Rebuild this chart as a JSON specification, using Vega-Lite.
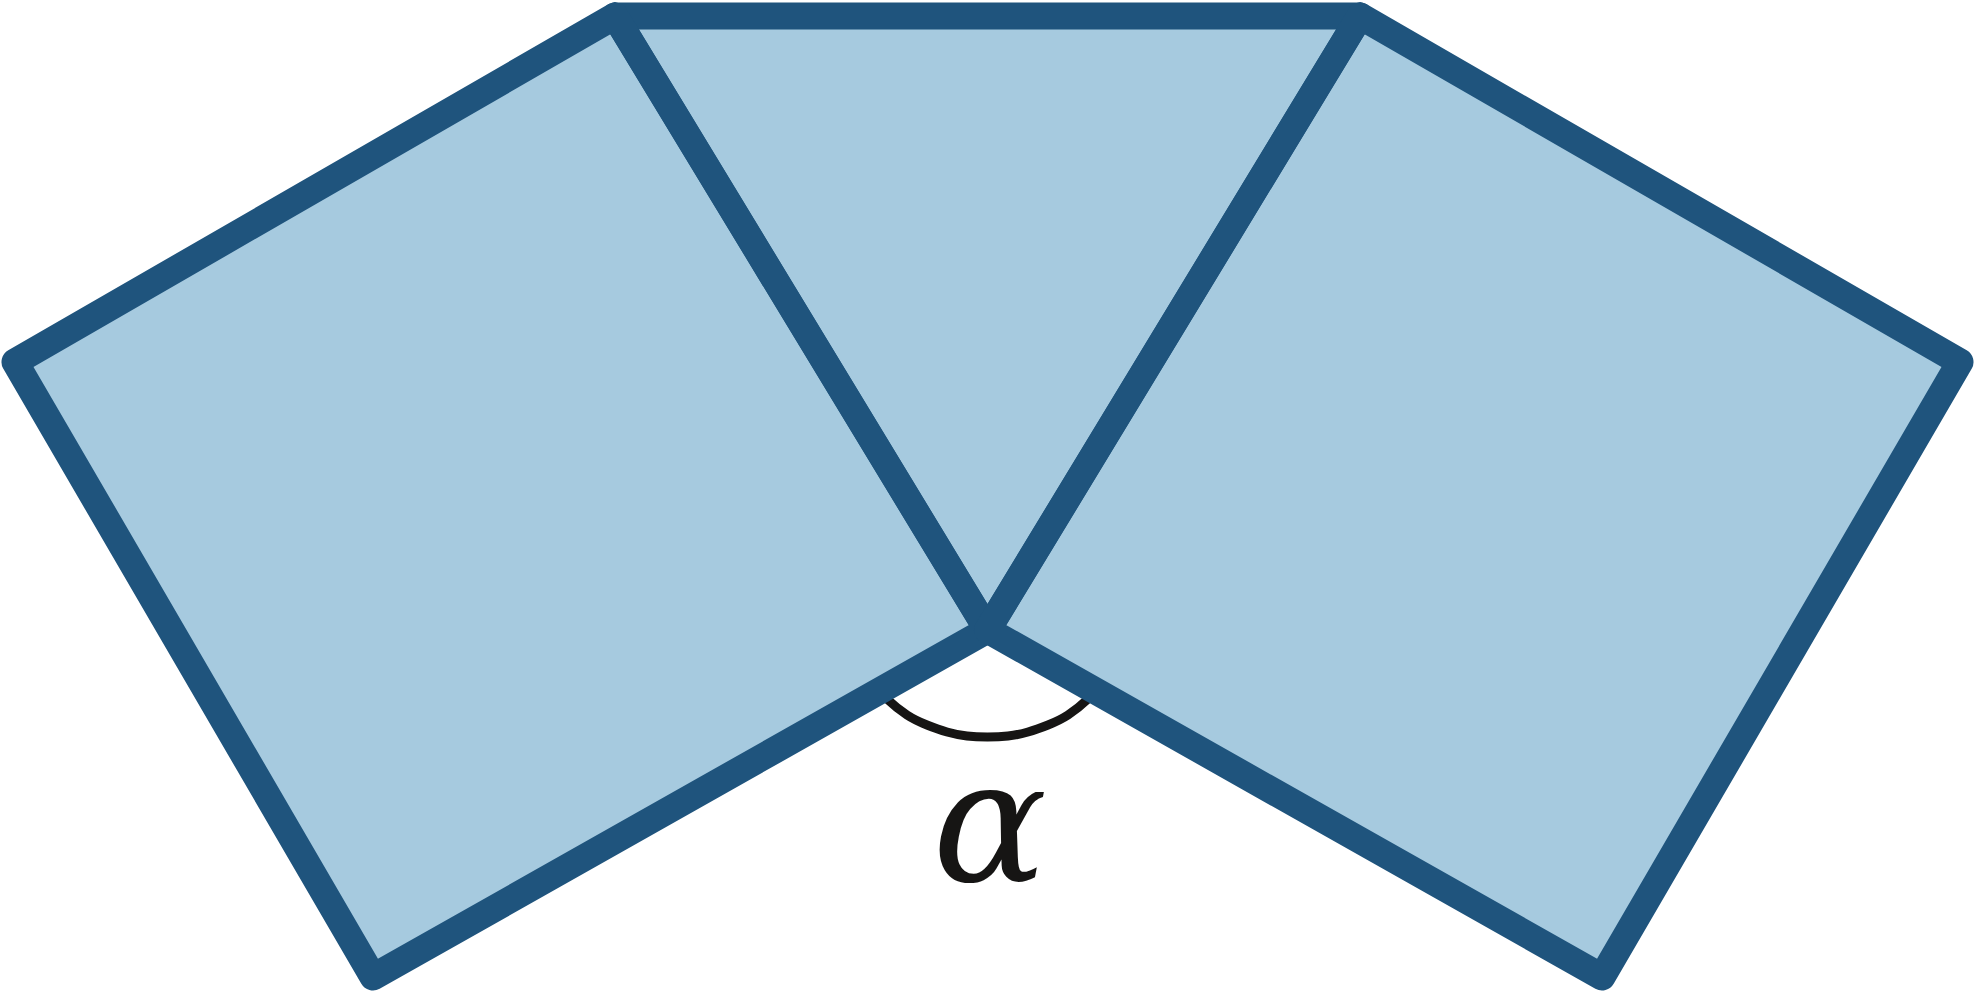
{
  "$schema": "https://vega.github.io/schema/vega-lite/v6.json",
  "description": "Two squares and a triangle meeting at a point, with the angle alpha marked below",
  "width": 1976,
  "height": 996,
  "padding": 0,
  "autosize": {"type": "none"},
  "config": {"view": {"stroke": null}},
  "datasets": {
    "shapes": [
      {"shape": "triangle", "i": 0, "x": 615, "y": 16},
      {"shape": "triangle", "i": 1, "x": 1360, "y": 16},
      {"shape": "triangle", "i": 2, "x": 987.5, "y": 630},
      {"shape": "triangle", "i": 3, "x": 615, "y": 16},
      {"shape": "left", "i": 0, "x": 615, "y": 16},
      {"shape": "left", "i": 1, "x": 15, "y": 362},
      {"shape": "left", "i": 2, "x": 373, "y": 977},
      {"shape": "left", "i": 3, "x": 987.5, "y": 630},
      {"shape": "left", "i": 4, "x": 615, "y": 16},
      {"shape": "right", "i": 0, "x": 1360, "y": 16},
      {"shape": "right", "i": 1, "x": 1960, "y": 362},
      {"shape": "right", "i": 2, "x": 1602, "y": 977},
      {"shape": "right", "i": 3, "x": 987.5, "y": 630},
      {"shape": "right", "i": 4, "x": 1360, "y": 16}
    ],
    "arc": [
      {"i": 0, "x": 877, "y": 688},
      {"i": 1, "x": 887, "y": 699},
      {"i": 2, "x": 907, "y": 715},
      {"i": 3, "x": 927, "y": 725},
      {"i": 4, "x": 947, "y": 732},
      {"i": 5, "x": 967, "y": 736},
      {"i": 6, "x": 987.5, "y": 737},
      {"i": 7, "x": 1008, "y": 736},
      {"i": 8, "x": 1028, "y": 732},
      {"i": 9, "x": 1048, "y": 725},
      {"i": 10, "x": 1068, "y": 715},
      {"i": 11, "x": 1088, "y": 699},
      {"i": 12, "x": 1098, "y": 688}
    ],
    "label": [
      {"text": "α", "x": 990, "y": 881}
    ]
  },
  "encoding": {
    "x": {"field": "x", "type": "quantitative", "scale": {"domain": [0, 1976]}, "axis": null},
    "y": {"field": "y", "type": "quantitative", "scale": {"domain": [0, 996], "reverse": true}, "axis": null}
  },
  "layer": [
    {
      "data": {"name": "shapes"},
      "mark": {"type": "line", "fill": "#a6cadf", "strokeOpacity": 0, "strokeWidth": 0},
      "encoding": {
        "detail": {"field": "shape", "type": "nominal"},
        "order": {"field": "i", "type": "quantitative"}
      }
    },
    {
      "data": {"name": "arc"},
      "mark": {"type": "line", "stroke": "#161514", "strokeWidth": 9, "interpolate": "natural"},
      "encoding": {
        "order": {"field": "i", "type": "quantitative"}
      }
    },
    {
      "data": {"name": "shapes"},
      "mark": {"type": "line", "stroke": "#1f547d", "strokeWidth": 27, "strokeJoin": "round", "strokeCap": "round"},
      "encoding": {
        "detail": {"field": "shape", "type": "nominal"},
        "order": {"field": "i", "type": "quantitative"}
      }
    },
    {
      "data": {"name": "label"},
      "mark": {"type": "text", "font": "DejaVu Serif", "fontStyle": "italic", "fontSize": 170, "align": "center", "baseline": "alphabetic", "color": "#161514"},
      "encoding": {
        "text": {"field": "text", "type": "nominal"}
      }
    }
  ]
}
